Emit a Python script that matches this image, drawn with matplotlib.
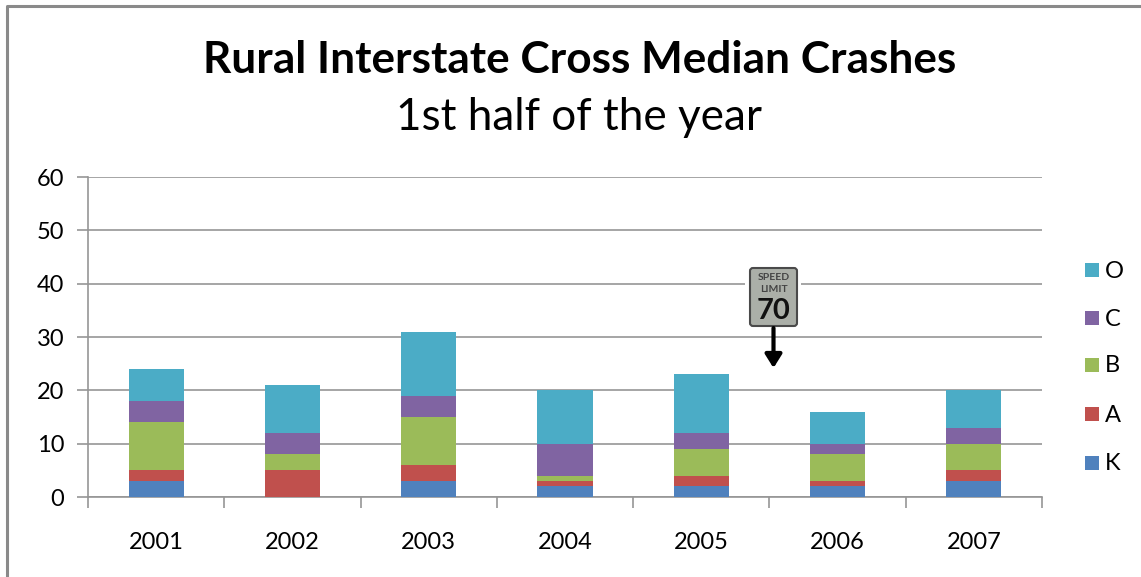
import numpy as np
import matplotlib
matplotlib.use('Agg')
import matplotlib.pyplot as plt
from matplotlib.patches import FancyBboxPatch, Rectangle
from matplotlib.lines import Line2D

plt.rcParams['font.family'] = ['Lato', 'DejaVu Sans']

years = ['2001', '2002', '2003', '2004', '2005', '2006', '2007']
K = [3, 0, 3, 2, 2, 2, 3]
A = [2, 5, 3, 1, 2, 1, 2]
B = [9, 3, 9, 1, 5, 5, 5]
C = [4, 4, 4, 6, 3, 2, 3]
O = [6, 9, 12, 10, 11, 6, 7]

series = [('K', K, '#4F81BD'), ('A', A, '#C0504D'), ('B', B, '#9BBB59'),
          ('C', C, '#8064A2'), ('O', O, '#4BACC6')]

W, H = 1141, 577
fig = plt.figure(figsize=(W/100, H/100), dpi=100)

# axes box in pixels
x0, x1 = 88, 1042
ytop, ybot = 177, 497
ax = fig.add_axes([x0/W, 1-ybot/H, (x1-x0)/W, (ybot-ytop)/H])

x = np.arange(len(years))
bottom = np.zeros(len(years))
for name, vals, col in series:
    ax.bar(x, vals, 0.405, bottom=bottom, color=col, zorder=3, label=name)
    bottom += np.array(vals)

ax.set_xlim(-0.5, 6.5)
ax.set_ylim(0, 60)
ax.set_yticks(range(0, 61, 10))
ax.set_xticks(x)
ax.set_xticklabels(years)
ax.grid(axis='y', color='#969696', lw=1.2, zorder=0)
ax.set_axisbelow(True)
for s in ['top', 'right']:
    ax.spines[s].set_visible(False)
for s in ['left', 'bottom']:
    ax.spines[s].set_color('#969696')
    ax.spines[s].set_linewidth(1.2)
ax.tick_params(axis='y', length=8, color='#969696', width=1.2, labelsize=17, pad=9)
ax.tick_params(axis='x', length=0, labelsize=17, pad=25)
# x ticks sit between the categories
ax.set_xticks(np.arange(-0.5, 7, 1), minor=True)
ax.tick_params(axis='x', which='minor', length=8, color='#969696', width=1.2)

# overlay in pixel coordinates for border, titles, sign
ov = fig.add_axes([0, 0, 1, 1], zorder=5)
ov.set_xlim(0, W)
ov.set_ylim(H, 0)
ov.axis('off')
ov.patch.set_alpha(0)

ov.add_line(Line2D([7, 7, W], [H, 6, 6], color='#8A8A8A', lw=2.2))

ov.text(580, 60, 'Rural Interstate Cross Median Crashes', ha='center', va='center',
        fontsize=31.8, fontweight='bold', color='black')
ov.text(579.5, 117, '1st half of the year', ha='center', va='center', fontsize=31.7, color='black')

# speed limit sign
ov.add_patch(Rectangle((745, 262), 56, 72, fc='white', ec='none'))
ov.add_patch(FancyBboxPatch((751, 269), 45, 56, boxstyle='round,pad=1,rounding_size=3',
                            fc='#ABAFA8', ec='#4A4A4A', lw=1.5))
ov.text(773.5, 277, 'SPEED', ha='center', va='center', fontsize=7.5, fontweight='bold', color='#444444')
ov.text(773.5, 289, 'LIMIT', ha='center', va='center', fontsize=7.5, fontweight='bold', color='#444444')
ov.text(773.5, 311, '70', ha='center', va='center', fontsize=21, fontweight='bold', color='#111111')
ov.annotate('', xy=(773.5, 368), xytext=(773.5, 328),
            arrowprops=dict(arrowstyle='-|>,head_width=0.5,head_length=0.8', color='black', lw=3,
                            shrinkA=0, shrinkB=0))

# legend drawn by hand so the spacing follows the picture
leg_y = [270, 318, 365, 414, 463]
for (name, vals, col), yy in zip(series[::-1], leg_y):
    ov.add_patch(Rectangle((1084.5, yy-7), 14, 14, fc=col, ec='none'))
    ov.text(1105, yy+1, name, ha='left', va='center', fontsize=17, color='black')

fig.savefig('out.png', dpi=100)
